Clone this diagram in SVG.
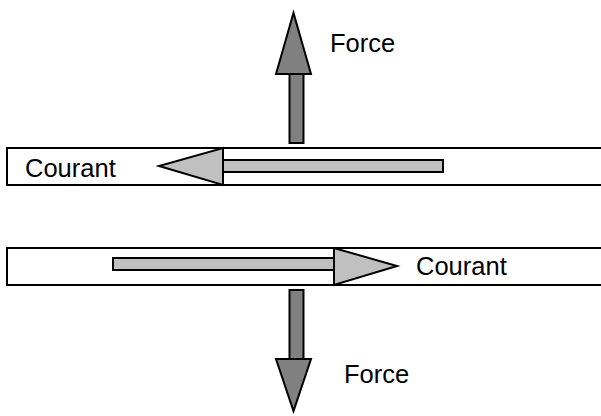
<svg xmlns="http://www.w3.org/2000/svg" width="601" height="416" viewBox="0 0 601 416">
<style>
.wire{fill:#fff;stroke:#000;stroke-width:2}
.dark{fill:#808080;stroke:#000;stroke-width:2;stroke-linejoin:miter}
.light{fill:#c0c0c0;stroke:#000;stroke-width:2;stroke-linejoin:miter}
text{font-family:"Liberation Sans",Arial,sans-serif;font-size:25.5px;fill:#000}
</style>
<rect width="601" height="416" fill="#fff"/>
<g id="wire-top">
<rect class="wire" x="7" y="148" width="600" height="37"/>
<text x="25" y="177">Courant</text>
</g>
<g id="wire-bottom">
<rect class="wire" x="7" y="248" width="600" height="37"/>
<text x="416" y="275">Courant</text>
</g>
<g id="connectors">
<g id="current-top">
<rect class="light" x="223" y="160" width="220" height="12"/>
<polygon class="light" points="223,148 223,185 159,166"/>
</g>
<g id="current-bottom">
<rect class="light" x="113" y="258" width="221" height="12"/>
<polygon class="light" points="334,248 334,285 397,266"/>
</g>
<g id="force-top">
<rect class="dark" x="289.5" y="74" width="14" height="69"/>
<polygon class="dark" points="276,74 311,74 293.5,13"/>
</g>
<g id="force-bottom">
<rect class="dark" x="289.5" y="290" width="14" height="69"/>
<polygon class="dark" points="276,359 311,359 293.5,411"/>
</g>
</g>
<g id="labels">
<text x="330" y="52">Force</text>
<text x="344" y="383">Force</text>
</g>
</svg>
